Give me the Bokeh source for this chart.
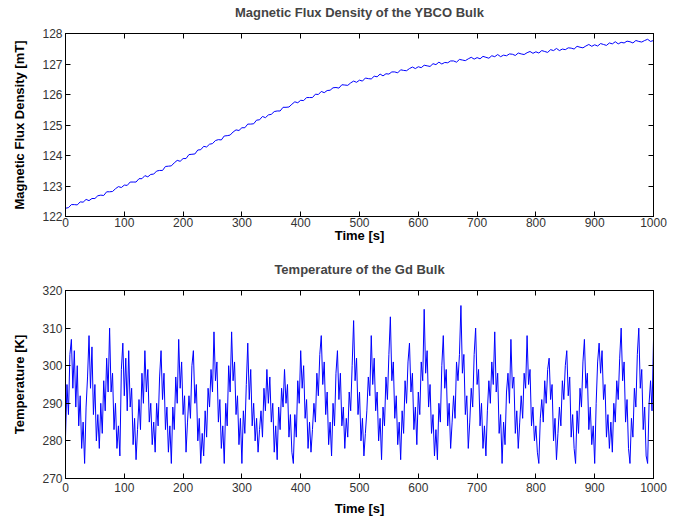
from bokeh.plotting import figure
from bokeh.models import LinearAxis, Range1d, FixedTicker, CustomLabelingPolicy
from bokeh.layouts import column
from bokeh.embed import file_html
from bokeh.resources import INLINE

# ---- data ----
flux_dt = 5.0  # seconds between flux samples
flux_mT = [
    122.27, 122.29, 122.39, 122.39, 122.38, 122.48, 122.47, 122.56, 122.52, 122.59,
    122.59, 122.68, 122.70, 122.69, 122.81, 122.81, 122.82, 122.91, 122.98, 122.95,
    123.03, 123.02, 123.13, 123.13, 123.13, 123.24, 123.24, 123.34, 123.30, 123.38,
    123.39, 123.49, 123.51, 123.51, 123.64, 123.65, 123.66, 123.76, 123.84, 123.81,
    123.90, 123.90, 124.03, 124.04, 124.05, 124.18, 124.19, 124.30, 124.28, 124.37,
    124.39, 124.49, 124.52, 124.51, 124.64, 124.65, 124.67, 124.77, 124.84, 124.82,
    124.91, 124.91, 125.03, 125.03, 125.04, 125.16, 125.17, 125.28, 125.24, 125.33,
    125.35, 125.44, 125.46, 125.46, 125.58, 125.58, 125.59, 125.68, 125.76, 125.73,
    125.81, 125.80, 125.90, 125.90, 125.90, 126.01, 126.00, 126.10, 126.06, 126.13,
    126.14, 126.22, 126.23, 126.21, 126.32, 126.31, 126.30, 126.38, 126.44, 126.40,
    126.47, 126.44, 126.54, 126.52, 126.51, 126.60, 126.58, 126.67, 126.61, 126.68,
    126.67, 126.74, 126.74, 126.71, 126.81, 126.79, 126.78, 126.85, 126.90, 126.85,
    126.91, 126.88, 126.96, 126.94, 126.92, 127.01, 126.98, 127.06, 127.00, 127.05,
    127.04, 127.10, 127.10, 127.06, 127.15, 127.13, 127.11, 127.17, 127.22, 127.16,
    127.21, 127.17, 127.25, 127.22, 127.19, 127.27, 127.24, 127.31, 127.24, 127.29,
    127.27, 127.33, 127.32, 127.28, 127.36, 127.33, 127.31, 127.37, 127.41, 127.35,
    127.40, 127.36, 127.44, 127.41, 127.38, 127.47, 127.44, 127.51, 127.44, 127.49,
    127.47, 127.53, 127.52, 127.49, 127.58, 127.55, 127.53, 127.59, 127.64, 127.58,
    127.63, 127.59, 127.67, 127.64, 127.61, 127.69, 127.66, 127.73, 127.66, 127.71,
    127.69, 127.75, 127.73, 127.69, 127.77, 127.74, 127.72, 127.77, 127.81, 127.74,
    127.77,
]

temp_dt = 2.5  # seconds between temperature samples
temp_K = [
    281, 295, 287, 303, 307, 294, 304, 289, 300, 284,
    292, 278, 285, 274, 289, 297, 308, 294, 305, 287,
    295, 280, 287, 278, 290, 282, 296, 288, 302, 293,
    310, 293, 298, 283, 290, 278, 284, 276, 299, 306,
    292, 302, 288, 304, 289, 294, 279, 286, 275, 283,
    291, 283, 298, 290, 304, 293, 299, 285, 290, 279,
    285, 277, 290, 284, 297, 304, 291, 298, 283, 289,
    277, 284, 274, 289, 283, 297, 290, 307, 294, 301,
    287, 292, 277, 285, 292, 286, 300, 304, 290, 295,
    280, 286, 274, 282, 276, 288, 281, 294, 289, 299,
    293, 309, 296, 301, 285, 291, 278, 284, 274, 290,
    284, 300, 293, 309, 296, 301, 287, 292, 279, 286,
    274, 288, 282, 295, 306, 291, 299, 284, 290, 280,
    286, 277, 283, 288, 281, 294, 288, 299, 290, 297,
    285, 290, 277, 284, 275, 289, 283, 294, 289, 299,
    290, 295, 281, 287, 277, 274, 287, 281, 296, 290,
    304, 294, 300, 286, 291, 278, 285, 277, 283, 290,
    285, 298, 292, 303, 308, 295, 301, 287, 293, 279,
    285, 276, 290, 284, 298, 304, 291, 298, 284, 289,
    278, 286, 281, 293, 288, 300, 312, 296, 302, 287,
    293, 280, 286, 276, 282, 288, 297, 292, 308, 295,
    302, 288, 293, 280, 286, 275, 289, 284, 297, 291,
    303, 313, 296, 301, 286, 292, 279, 285, 275, 288,
    282, 296, 290, 301, 306, 293, 298, 283, 289, 279,
    293, 287, 301, 296, 315, 298, 304, 289, 295, 282,
    287, 276, 283, 275, 290, 285, 300, 308, 294, 299,
    284, 290, 278, 285, 292, 286, 301, 296, 303, 316,
    298, 303, 287, 292, 278, 285, 294, 289, 303, 310,
    295, 299, 284, 290, 278, 284, 276, 288, 296, 290,
    301, 295, 309, 293, 298, 282, 287, 274, 285, 279,
    293, 298, 290, 307, 294, 297, 282, 288, 278, 285,
    292, 286, 298, 294, 308, 295, 299, 284, 289, 280,
    284, 277, 274, 286, 291, 285, 296, 290, 299, 302,
    291, 295, 280, 286, 275, 282, 289, 284, 296, 291,
    300, 304, 292, 297, 281, 287, 278, 274, 288, 282,
    294, 289, 301, 307, 294, 298, 283, 289, 279, 284,
    274, 290, 301, 306, 298, 304, 291, 295, 281, 287,
    278, 285, 277, 290, 285, 296, 291, 302, 310, 296,
    301, 285, 291, 278, 274, 286, 281, 294, 289, 303,
    310, 294, 299, 283, 289, 276, 274, 290, 296, 288,
    307,
]

x_ticks = [0, 100, 200, 300, 400, 500, 600, 700, 800, 900, 1000]
flux_ticks = [122, 123, 124, 125, 126, 127, 128]
temp_ticks = [270, 280, 290, 300, 310, 320]

flux_t = [i * flux_dt for i in range(len(flux_mT))]
temp_t = [i * temp_dt for i in range(len(temp_K))]

TICK_FONT = "Liberation Sans"
LABEL_FONT = "Liberation Sans"

HIDE_ALL = """
for (const i of indices)
    indices.unset(i)
return indices
"""


def style_axis(ax, show_labels=True):
    ax.major_tick_in = 5
    ax.major_tick_out = 0
    ax.minor_tick_in = 0
    ax.minor_tick_out = 0
    ax.axis_line_color = "black"
    ax.major_tick_line_color = "black"
    ax.major_label_text_font = TICK_FONT
    ax.major_label_text_color = "#333333"
    ax.major_label_text_font_size = "12px"
    if show_labels:
        ax.major_label_standoff = 3
    else:
        ax.major_label_policy = CustomLabelingPolicy(code=HIDE_ALL)
        ax.major_label_standoff = 0
    ax.axis_label_text_font = LABEL_FONT
    ax.axis_label_text_font_style = "bold"
    ax.axis_label_text_font_size = "13px"
    ax.axis_label_text_color = "black"


def make_fig(height, btop, bbottom, title, ylabel, yr, yticks, xs, ys,
             xlab_standoff, xaxis_label_standoff):
    p = figure(width=684, height=height, output_backend="svg", toolbar_location=None,
               x_range=Range1d(0, 1000), y_range=Range1d(yr[0], yr[1]),
               min_border_left=65, min_border_right=31,
               min_border_top=btop, min_border_bottom=bbottom,
               title=title)
    p.title.align = "center"
    p.title.text_font = LABEL_FONT
    p.title.text_font_size = "13px"
    p.title.text_font_style = "bold"
    p.title.standoff = 4
    p.xgrid.visible = False
    p.ygrid.visible = False
    p.outline_line_color = "black"
    p.outline_line_alpha = 1.0
    p.background_fill_color = "white"
    p.border_fill_color = "white"

    p.xaxis.ticker = FixedTicker(ticks=x_ticks)
    p.yaxis.ticker = FixedTicker(ticks=yticks)
    style_axis(p.xaxis[0])
    style_axis(p.yaxis[0])
    p.xaxis.axis_label = "Time [s]"
    p.yaxis.axis_label = ylabel
    p.xaxis.major_label_standoff = xlab_standoff
    p.xaxis.axis_label_standoff = xaxis_label_standoff
    p.yaxis.axis_label_standoff = 12

    top = LinearAxis(ticker=FixedTicker(ticks=x_ticks))
    style_axis(top, show_labels=False)
    p.add_layout(top, "above")
    right = LinearAxis(ticker=FixedTicker(ticks=yticks))
    style_axis(right, show_labels=False)
    p.add_layout(right, "right")

    p.line(xs, ys, line_color="#0000ff", line_width=1)
    return p


p1 = make_fig(252, 27, 36, "Magnetic Flux Density of the YBCO Bulk",
              "Magnetic Flux Density [mT]", (122, 128), flux_ticks, flux_t, flux_mT,
              1, -2)
p2 = make_fig(268, 38, 42, "Temperature of the Gd Bulk",
              "Temperature [K]", (270, 320), temp_ticks, temp_t, temp_K,
              4, 6)

layout = column(p1, p2, spacing=0)
open("out.html", "w").write(file_html(layout, INLINE))
